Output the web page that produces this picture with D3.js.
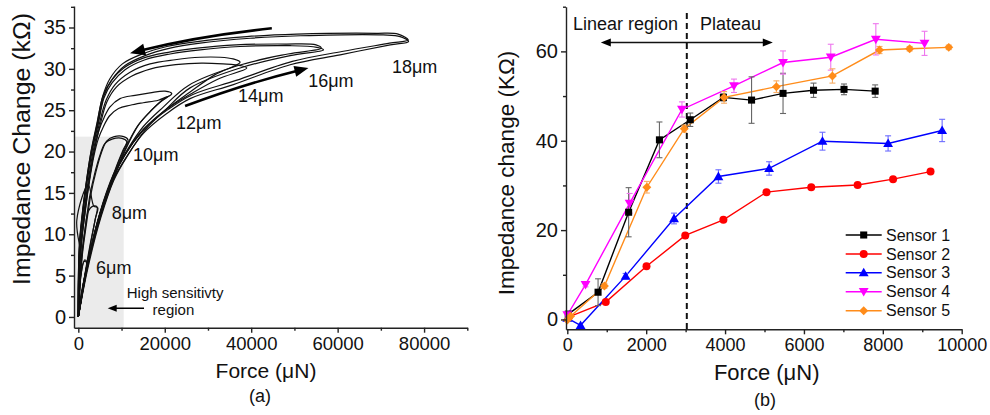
<!DOCTYPE html>
<html><head><meta charset="utf-8">
<script src="https://cdn.jsdelivr.net/npm/d3@7"></script>
<style>
body{margin:0;background:#fff}
text{font-family:"Liberation Sans",Arial,sans-serif}
</style>
</head><body>
<svg id="c" width="990" height="415"></svg>
<script>
// ---------------- Panel (a) data: hysteresis loops [force (μN), impedance change (kΩ)] ----------------
const loop6a  = [[0,0],[625,2.7],[1320,4.5],[2014,6.5],[1320,6.7],[625,5.1],[278,2.7],[0,0]];
const loop6b  = [[0,0],[800,2.9],[1500,4.9],[2200,6.4],[1500,6.9],[700,5.4],[200,2.6],[0,0]];
const loop8a  = [[0,0],[1320,4.5],[2709,8.7],[3866,11.7],[4329,13.3],[3403,13.4],[2246,12.7],[1551,10.5],[857,7.5],[394,3.9],[0,0]];
const loop8b  = [[0,0],[1500,4.8],[2900,9.0],[4000,12.0],[4500,13.2],[3600,13.4],[2300,16.0],[-350,11.7],[700,7.0],[200,3.0],[0,0]];
const loop10a = [[0,0],[2014,6.0],[4561,11.7],[6876,15.4],[8959,18.4],[10348,20.2],[11205,21.2],[10117,21.6],[7802,21.5],[6181,21.0],[5024,19.6],[3866,17.5],[2709,14.8],[1783,11.5],[857,7.9],[278,3.9],[0,0]];
const loop10b = [[0,0],[2200,6.2],[4800,11.8],[7100,15.5],[9200,18.6],[10700,20.4],[11500,21.4],[10500,21.8],[8300,21.8],[6600,21.3],[5300,19.8],[4100,17.6],[2900,14.8],[1900,11.3],[950,7.6],[300,3.6],[0,0]];
const loop12a = [[0,0],[2014,6.0],[5024,12.1],[7802,16.3],[10579,20.0],[13589,23.0],[16598,24.8],[19376,26.2],[21622,27.0],[20071,27.3],[16598,27.1],[13126,26.8],[9654,26.4],[7339,25.4],[5950,24.1],[4792,22.6],[3635,20.0],[2477,16.3],[1551,12.7],[741,9.1],[162,4.2],[0,0]];
const loop12b = [[0,0],[2200,6.3],[5300,12.4],[8100,16.6],[10900,20.2],[13900,23.2],[16900,25.0],[19000,26.0],[20900,26.7],[18500,26.2],[15000,25.9],[12000,25.6],[9300,25.2],[7200,24.3],[5800,23.0],[4600,21.5],[3500,19.2],[2400,15.8],[1500,12.3],[700,8.8],[150,4.0],[0,0]];
const loop14a = [[0,0],[2014,6.0],[4792,12.1],[7802,16.6],[10811,19.6],[14746,22.4],[19608,24.8],[25858,27.2],[31646,29.3],[37433,30.8],[35812,31.2],[32803,31.4],[28173,31.4],[22386,31.1],[16598,30.6],[11969,29.6],[8496,28.1],[6412,26.2],[4792,23.2],[3403,20.0],[2246,16.3],[1320,12.7],[625,9.1],[93,4.2],[0,0]];
const loop14b = [[0,0],[2200,6.3],[5000,12.5],[8100,17.0],[11200,20.0],[15100,22.7],[20100,25.0],[26500,27.1],[32500,28.8],[38985,30.1],[37500,30.4],[33500,30.6],[28500,30.7],[22500,30.5],[16800,30.0],[12300,29.1],[8800,27.8],[6600,26.0],[5000,23.1],[3600,19.9],[2400,16.2],[1400,12.6],[700,9.0],[150,4.3],[0,0]];
const loop16a = [[0,0],[2246,6.0],[5255,12.1],[8265,16.6],[11506,19.6],[15440,22.6],[20071,25.0],[25858,27.7],[37433,30.1],[49008,31.6],[56718,32.3],[55189,32.6],[49008,32.8],[37433,32.7],[28173,32.3],[21228,31.8],[15440,31.1],[10811,29.9],[7802,28.3],[5950,26.5],[4561,23.2],[3172,20.0],[2014,16.3],[1088,12.7],[394,9.1],[50,4.2],[0,0]];
const loop16b = [[0,0],[2100,6.4],[5000,12.6],[8000,17.1],[11200,20.1],[15000,23.0],[19700,25.4],[25500,28.0],[37000,30.4],[48500,31.8],[56200,32.5],[55000,32.9],[48000,33.0],[36500,32.9],[27500,32.5],[20800,32.0],[15000,31.3],[10500,30.1],[7500,28.5],[5700,26.7],[4300,23.4],[3000,20.2],[1900,16.5],[1000,12.9],[300,9.2],[0,4.4],[0,0]];
const loop18a = [[0,0],[1945,6.1],[5024,12.1],[8100,16.6],[11200,19.4],[15050,22.2],[20460,24.6],[25860,26.4],[35880,28.1],[49010,30.5],[60580,31.7],[72160,32.9],[76400,33.3],[74470,33.9],[70540,34.1],[51320,34.0],[39750,33.7],[28170,33.1],[21230,32.5],[15440,31.6],[10810,30.4],[7800,28.7],[5950,26.8],[4560,23.5],[3170,20.2],[2010,16.6],[1090,12.9],[390,9.3],[50,4.5],[0,0]];
const loop18b = [[0,0],[2100,6.6],[5200,12.8],[8300,17.3],[11400,20.1],[15300,22.8],[20800,25.1],[26500,26.9],[36500,28.6],[49500,30.9],[61000,32.1],[72000,33.1],[76300,33.5],[74000,34.2],[69000,34.3],[50500,34.2],[39000,33.9],[27500,33.3],[20500,32.7],[14800,31.8],[10200,30.6],[7300,28.8],[5600,26.6],[4300,23.2],[2900,19.8],[1800,16.1],[900,12.3],[250,8.6],[0,3.8],[0,0]];
const loopsA = [loop6a,loop6b,loop8a,loop8b,loop10a,loop10b,loop12a,loop12b,loop14a,loop14b,loop16a,loop16b,loop18a,loop18b];

// loop labels: text, force position, value position
const loopLabelText  = ["6μm","8μm","10μm","12μm","14μm","16μm","18μm"];
const loopLabelForce = [4100,7730,12660,22620,36970,53175,72550];
const loopLabelValue = [5.2,11.9,18.8,22.7,26.0,27.8,29.5];

const xTicksA = [0,20000,40000,60000,80000];
const xMinorA = [10000,30000,50000,70000,90000];
const yTicksA = [0,5,10,15,20,25,30,35];
const yMinorA = [2.5,7.5,12.5,17.5,22.5,27.5,32.5,37.5];
const shadeForce = [-1000,10500];
const shadeValue = [-1.3,21.8];

// ---------------- Panel (b) data ----------------
const sensorNames = ["Sensor 1","Sensor 2","Sensor 3","Sensor 4","Sensor 5"];
const sensor1Force = [25,780,1555,2336,3118,3958,4672,5470,6243,7016,7806];
const sensor1Value = [1.2,6.1,24.0,40.2,44.7,49.7,49.1,50.6,51.3,51.5,51.1];
const sensor1Err   = [0,3.0,5.5,4.0,1.5,0.8,5.2,4.5,1.6,1.2,1.4];
const sensor2Force = [42,975,2008,2991,3958,5050,6185,7361,8260,9210];
const sensor2Value = [0.6,3.9,11.9,18.8,22.3,28.5,29.6,30.1,31.4,33.1];
const sensor2Err   = [0,0,0,0,0,0,0,0,0,0];
const sensor3Force = [0,336,1479,2706,3832,5117,6470,8134,9504];
const sensor3Value = [0.3,-1.3,9.7,22.6,32.0,33.8,39.9,39.4,42.3];
const sensor3Err   = [0,0,0.6,1.2,1.5,1.5,2.0,1.7,2.5];
const sensor4Force = [0,462,1580,2907,4226,5470,6680,7823,9058];
const sensor4Value = [1.0,7.8,26.0,47.0,52.3,57.5,58.7,62.7,61.8];
const sensor4Err   = [0,0.5,2.2,1.7,1.5,2.6,2.9,3.5,2.7];
const sensor5Force = [0,84,941,2017,2966,3975,5302,6722,7916,8680,9672];
const sensor5Value = [-0.1,0.7,7.5,29.6,42.7,49.7,52.1,54.5,60.3,60.6,60.9];
const sensor5Err   = [0,0,0.5,1.3,0.8,1.3,1.3,1.6,0.8,0.5,0.5];

const xTicksB = [0,2000,4000,6000,8000,10000];
const xMinorB = [1000,3000,5000,7000,9000];
const yTicksB = [0,20,40,60];
const yMinorB = [10,30,50,70];
const boundaryForce = 3030;
const regionArrowForce = [850,5210];
const regionArrowValue = 62.0;

// ---------------- drawing ----------------
const svg = d3.select("#c");
svg.append("rect").attr("width",990).attr("height",415).attr("fill","#fff");
const AX = "#222";

function styleAxis(g, fs){
  g.selectAll("path").attr("stroke",AX).attr("stroke-width",1.4);
  g.selectAll("line").attr("stroke",AX).attr("stroke-width",1.4);
  g.selectAll("text").attr("font-size",fs).attr("fill","#111").attr("font-family","Liberation Sans, Arial, sans-serif");
}
function arrowHead(g, tip, from, len, wid){
  const dx = tip[0]-from[0], dy = tip[1]-from[1];
  const L = Math.hypot(dx,dy), ux = dx/L, uy = dy/L;
  const bx = tip[0]-ux*len, by = tip[1]-uy*len;
  const p = [[tip[0],tip[1]],[bx-uy*wid/2,by+ux*wid/2],[bx+uy*wid/2,by-ux*wid/2]];
  g.append("path").attr("d","M"+p.map(q=>q.join(",")).join("L")+"Z").attr("fill","#000");
}

// ===== Panel (a) =====
const xA = d3.scaleLinear().domain([-1000,90000]).range([74,467.3]);
const yA = d3.scaleLinear().domain([-1.3,37.6]).range([327.7,6]);
const gA = svg.append("g");

gA.append("rect").attr("x",xA(shadeForce[0])).attr("y",yA(shadeValue[1]))
  .attr("width",xA(shadeForce[1])-xA(shadeForce[0])).attr("height",yA(shadeValue[0])-yA(shadeValue[1]))
  .attr("fill","#ebebeb");

const lineA = d3.line().x(d=>xA(d[0])).y(d=>yA(d[1])).curve(d3.curveCatmullRom.alpha(0.5));
gA.selectAll("path.loop").data(loopsA).join("path").attr("class","loop")
  .attr("d",lineA).attr("fill","none").attr("stroke","#111").attr("stroke-width",1.2);

// axes
const gxA = gA.append("g").attr("transform",`translate(0,${yA.range()[0]})`)
  .call(d3.axisBottom(xA).tickValues(xTicksA).tickSize(5).tickSizeOuter(0).tickPadding(4).tickFormat(d3.format("d")));
styleAxis(gxA,18.5);
const gxAm = gA.append("g").attr("transform",`translate(0,${yA.range()[0]})`)
  .call(d3.axisBottom(xA).tickValues(xMinorA).tickSize(3).tickSizeOuter(0).tickFormat(""));
styleAxis(gxAm,18); gxAm.select(".domain").remove();
const gyA = gA.append("g").attr("transform",`translate(${xA.range()[0]},0)`)
  .call(d3.axisLeft(yA).tickValues(yTicksA).tickSize(5).tickSizeOuter(0).tickPadding(3));
styleAxis(gyA,20);
const gyAm = gA.append("g").attr("transform",`translate(${xA.range()[0]},0)`)
  .call(d3.axisLeft(yA).tickValues(yMinorA).tickSize(3).tickSizeOuter(0).tickFormat(""));
styleAxis(gyAm,19); gyAm.select(".domain").remove();

// labels
gA.selectAll("text.lbl").data(loopLabelText).join("text").attr("class","lbl")
  .attr("x",(d,i)=>xA(loopLabelForce[i])).attr("y",(d,i)=>yA(loopLabelValue[i]))
  .attr("font-size",18).attr("fill","#111").text(d=>d);

// big arrows (data coordinates)
function curvedArrow(g, tail, ctrl, tip, w, hl, hw){
  const p0=[xA(tail[0]),yA(tail[1])], c=[xA(ctrl[0]),yA(ctrl[1])], p1=[xA(tip[0]),yA(tip[1])];
  const dx=p1[0]-c[0], dy=p1[1]-c[1], L=Math.hypot(dx,dy);
  const end=[p1[0]-dx/L*hl*0.8, p1[1]-dy/L*hl*0.8];
  g.append("path").attr("d",`M${p0[0]},${p0[1]}Q${c[0]},${c[1]} ${end[0]},${end[1]}`)
    .attr("fill","none").attr("stroke","#000").attr("stroke-width",w);
  arrowHead(g,p1,c,hl,hw);
}
curvedArrow(gA,[44770,34.9],[28043,33.98],[11969,31.9],2.6,15,12);
curvedArrow(gA,[24700,25.5],[38590,28.2],[53245,30.1],2.6,14,11);

// high sensitivity annotation
gA.append("text").attr("x",xA(11200)).attr("y",yA(2.26)).attr("font-size",15).attr("fill","#111").text("High sensitivty");
gA.append("text").attr("x",xA(22000)).attr("y",yA(0.24)).attr("font-size",15).attr("fill","#111").attr("text-anchor","middle").text("region");
gA.append("line").attr("x1",xA(15200)).attr("x2",xA(8000)).attr("y1",yA(1.05)).attr("y2",yA(1.05)).attr("stroke","#000").attr("stroke-width",1.6);
arrowHead(gA,[xA(6800),yA(1.05)],[xA(15200),yA(1.05)],9,7);

// titles
gA.append("text").attr("transform","translate(30,149) rotate(-90)").attr("text-anchor","middle")
  .attr("font-size",23).attr("textLength",272).attr("lengthAdjust","spacingAndGlyphs")
  .attr("fill","#111").text("Impedance Change (kΩ)");
gA.append("text").attr("x",266).attr("y",378).attr("text-anchor","middle")
  .attr("font-size",21).attr("fill","#111").text("Force (μN)");
gA.append("text").attr("x",260).attr("y",402).attr("text-anchor","middle")
  .attr("font-size",18).attr("font-family","Liberation Serif, Times New Roman, serif").attr("fill","#111").text("(a)");

// ===== Panel (b) =====
const xB = d3.scaleLinear().domain([-33,10000]).range([566,961.7]);
const yB = d3.scaleLinear().domain([-2.2,70]).range([329.3,6.7]);
const gB = svg.append("g");

const series = [
  {name:sensorNames[0], f:sensor1Force, v:sensor1Value, e:sensor1Err, color:"#000000", ecol:"#666", sym:"square"},
  {name:sensorNames[1], f:sensor2Force, v:sensor2Value, e:sensor2Err, color:"#ff0000", ecol:"#ff6060", sym:"circle"},
  {name:sensorNames[2], f:sensor3Force, v:sensor3Value, e:sensor3Err, color:"#0000ff", ecol:"#6b6bff", sym:"up"},
  {name:sensorNames[3], f:sensor4Force, v:sensor4Value, e:sensor4Err, color:"#ff00ff", ecol:"#ee77ee", sym:"down"},
  {name:sensorNames[4], f:sensor5Force, v:sensor5Value, e:sensor5Err, color:"#ff8c1a", ecol:"#f7ad66", sym:"diamond"}
];
function marker(g, sym, x, y, col){
  let s;
  if(sym==="square") s=g.append("path").attr("d",d3.symbol(d3.symbolSquare,50)()).attr("transform",`translate(${x},${y})`);
  else if(sym==="circle") s=g.append("circle").attr("cx",x).attr("cy",y).attr("r",4);
  else if(sym==="up") s=g.append("path").attr("d",d3.symbol(d3.symbolTriangle,42)()).attr("transform",`translate(${x},${y+0.8})`);
  else if(sym==="down") s=g.append("path").attr("d",d3.symbol(d3.symbolTriangle,42)()).attr("transform",`translate(${x},${y-0.8}) rotate(180)`);
  else s=g.append("path").attr("d",d3.symbol(d3.symbolSquare,40)()).attr("transform",`translate(${x},${y}) rotate(45)`);
  s.attr("fill",col);
}

// dashed boundary
gB.append("line").attr("x1",xB(boundaryForce)).attr("x2",xB(boundaryForce)).attr("y1",13).attr("y2",yB(-2.2))
  .attr("stroke","#111").attr("stroke-width",2).attr("stroke-dasharray","6,4");

const lineB = d3.line().x(d=>xB(d[0])).y(d=>yB(d[1]));
series.forEach(s=>{
  const pts = s.f.map((f,i)=>[f,s.v[i]]);
  gB.append("path").attr("d",lineB(pts)).attr("fill","none").attr("stroke",s.color).attr("stroke-width",1.4);
});
series.forEach(s=>{
  s.f.forEach((f,i)=>{
    const e=s.e[i]; if(!e) return;
    const x=xB(f), y0=yB(s.v[i]-e), y1=yB(s.v[i]+e);
    gB.append("line").attr("x1",x).attr("x2",x).attr("y1",y0).attr("y2",y1).attr("stroke",s.ecol).attr("stroke-width",1.1);
    [y0,y1].forEach(y=>gB.append("line").attr("x1",x-3).attr("x2",x+3).attr("y1",y).attr("y2",y).attr("stroke",s.ecol).attr("stroke-width",1.1));
  });
});
series.forEach(s=>{
  s.f.forEach((f,i)=>marker(gB,s.sym,xB(f),yB(s.v[i]),s.color));
});

// axes
const gxB = gB.append("g").attr("transform",`translate(0,${yB.range()[0]})`)
  .call(d3.axisBottom(xB).tickValues(xTicksB).tickSize(5).tickSizeOuter(0).tickPadding(4).tickFormat(d3.format("d")));
styleAxis(gxB,18);
const gxBm = gB.append("g").attr("transform",`translate(0,${yB.range()[0]})`)
  .call(d3.axisBottom(xB).tickValues(xMinorB).tickSize(3).tickSizeOuter(0).tickFormat(""));
styleAxis(gxBm,18); gxBm.select(".domain").remove();
const gyB = gB.append("g").attr("transform",`translate(${xB.range()[0]},0)`)
  .call(d3.axisLeft(yB).tickValues(yTicksB).tickSize(5).tickSizeOuter(0).tickPadding(3));
styleAxis(gyB,20);
const gyBm = gB.append("g").attr("transform",`translate(${xB.range()[0]},0)`)
  .call(d3.axisLeft(yB).tickValues(yMinorB).tickSize(3).tickSizeOuter(0).tickFormat(""));
styleAxis(gyBm,19); gyBm.select(".domain").remove();

// region annotation
const ay = yB(regionArrowValue);
gB.append("line").attr("x1",xB(regionArrowForce[0])+8).attr("x2",xB(regionArrowForce[1])-8).attr("y1",ay).attr("y2",ay)
  .attr("stroke","#111").attr("stroke-width",1.4);
arrowHead(gB,[xB(regionArrowForce[0]),ay],[xB(regionArrowForce[1]),ay],10,8);
arrowHead(gB,[xB(regionArrowForce[1]),ay],[xB(regionArrowForce[0]),ay],10,8);
gB.append("text").attr("x",573).attr("y",30).attr("font-size",18).attr("fill","#111").text("Linear region");
gB.append("text").attr("x",700).attr("y",30).attr("font-size",18).attr("fill","#111").text("Plateau");

// legend
const legY = [235,254,272.7,291.7,310.7];
series.forEach((s,i)=>{
  gB.append("line").attr("x1",845.7).attr("x2",881.7).attr("y1",legY[i]).attr("y2",legY[i]).attr("stroke",s.color).attr("stroke-width",1.4);
  marker(gB,s.sym,863.7,legY[i],s.color);
  gB.append("text").attr("x",886).attr("y",legY[i]+5.5).attr("font-size",16).attr("fill","#111").text(s.name);
});

// titles
gB.append("text").attr("transform","translate(514,173) rotate(-90)").attr("text-anchor","middle")
  .attr("font-size",22.5).attr("fill","#111").text("Impedance change (KΩ)");
gB.append("text").attr("x",766.7).attr("y",380).attr("text-anchor","middle")
  .attr("font-size",22).attr("fill","#111").text("Force (μN)");
gB.append("text").attr("x",765).attr("y",406).attr("text-anchor","middle")
  .attr("font-size",18).attr("font-family","Liberation Serif, Times New Roman, serif").attr("fill","#111").text("(b)");
</script>
</body></html>
